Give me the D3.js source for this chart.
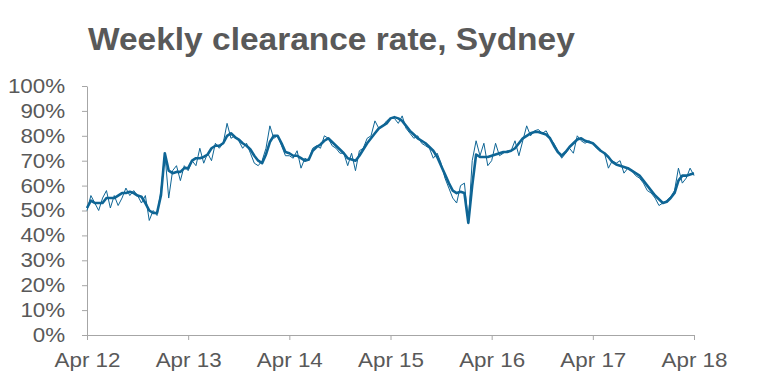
<!DOCTYPE html>
<html>
<head>
<meta charset="utf-8">
<script src="https://cdn.jsdelivr.net/npm/d3@7"></script>
<style>
body{margin:0;background:#fff;}
svg{display:block;font-family:"Liberation Sans",Arial,sans-serif;}
</style>
</head>
<body>
<svg id="chart" width="767" height="385"></svg>
<script>
// fortnightly readings from Apr 2012 to Apr 2018 (26 per year)
const weeklyRate = [
  50,56,53,50,55,58,51,56,52,55,59,56,58,56,53,56,46,50,48,58,73,55,66,68,62,68,
  66,70,68,75,69,73,70,77,75,77,85,79,80,78,75,77,73,69,68,70,75,84,79,80,76,72,
  72,71,74,67,71,70,75,76,75,80,79,76,75,73,73,68,73,66,74,75,79,80,86,83,84,86,
  87,87,85,88,83,81,79,80,77,76,75,71,73,69,63,59,55,53,60,61,45,70,78,72,77,68,
  70,77,72,73,74,74,78,72,78,84,80,82,82.5,81,82,79,77,74,71,73,75,73,80,78,77,78,
  77,75,74,73,67,70,69,70,65,67,66,64,63,61,58,57,55,52,53,54,55.5,58,67,61,63,67,64
];
// smoothed trend line
const trendRate = [
  51,54,53,53,53,55,55,55,56,57,57,57.5,57,56,55.5,53,50,49,49,56,73,66,65,65.5,65.5,67,
  67,70,71,71,71.5,72.5,75,76,76,77,80,81,79.5,78.5,77,76,74.5,72,70,69,72.5,77.5,80,80,77,73.5,
  73,72,72,71,70,70.5,74,75.5,76.5,78,79,77.5,76,74.5,73,71,70.5,70,72,74.5,77,79,81,83,84,85,
  87,87.5,87,86,84,82,80.5,79,78,77,75.5,74,71.5,68,64.5,61,58,57,57.5,57,45,60,72.5,71.5,71.5,71.5,
  72,72.5,73,73.5,73.5,74,75,77,79,80,81,81.5,81.5,81,80.5,79,76,73.5,72,73.5,75.5,77,78.5,79,78,77.5,
  77,75.5,74,73,71.5,69.5,68.5,68,67.5,67,66,65,64,62,60,58,56,54.5,53,53.5,55,57,62,64,64,64.5,65
];
const xTickLabels = ["Apr 12","Apr 13","Apr 14","Apr 15","Apr 16","Apr 17","Apr 18"];
const yTicks = [0,10,20,30,40,50,60,70,80,90,100];
const perYear = 26;

const svg = d3.select("#chart");
const stretch = "scale(1.12,1)";
const textColor = "#595959";
const axisColor = "#a6a6a6";
const lineColor = "#0e6595";

const x = d3.scaleLinear()
  .domain([0, xTickLabels.length - 1])
  .range([87, 694]);
const y = d3.scaleLinear()
  .domain([0, 100])
  .range([335, 86]);

svg.append("text")
  .attr("transform", "translate(88,50) scale(1.08,1)")
  .style("font-size", "31px")
  .style("font-weight", "bold")
  .style("fill", textColor)
  .text("Weekly clearance rate, Sydney");

const yAxis = d3.axisLeft(y)
  .tickValues(yTicks)
  .tickSize(5)
  .tickSizeOuter(0)
  .tickPadding(14.5)
  .tickFormat(d => d + "%");
svg.append("g")
  .attr("class", "yAxis")
  .attr("transform", "translate(" + x.range()[0] + ",0)")
  .call(yAxis);

const xAxis = d3.axisBottom(x)
  .tickValues(d3.range(xTickLabels.length))
  .tickSize(5)
  .tickSizeOuter(0)
  .tickPadding(13)
  .tickFormat(i => xTickLabels[i]);
svg.append("g")
  .attr("class", "xAxis")
  .attr("transform", "translate(0," + y(0) + ")")
  .call(xAxis);

svg.selectAll(".yAxis path, .yAxis line, .xAxis path, .xAxis line")
  .style("stroke", axisColor)
  .style("stroke-width", 1);
svg.selectAll(".yAxis text, .xAxis text")
  .attr("transform", stretch)
  .style("font-size", "20px")
  .style("fill", textColor);

const line = d3.line()
  .x((d, i) => x(i / perYear))
  .y(d => y(d));

svg.append("path")
  .datum(weeklyRate)
  .attr("d", line)
  .style("fill", "none")
  .style("stroke", lineColor)
  .style("stroke-width", 1);

svg.append("path")
  .datum(trendRate)
  .attr("d", line)
  .style("fill", "none")
  .style("stroke", lineColor)
  .style("stroke-width", 2.6)
  .style("stroke-linejoin", "round");
</script>
</body>
</html>
